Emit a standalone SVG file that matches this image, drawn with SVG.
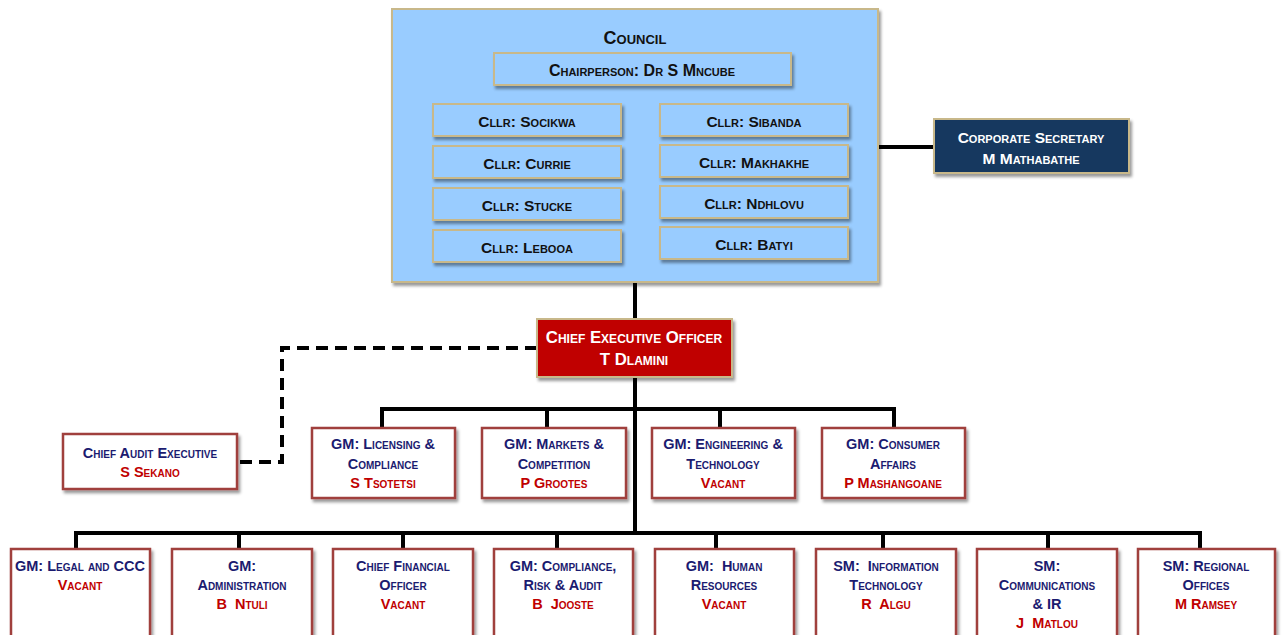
<svg xmlns="http://www.w3.org/2000/svg" width="1283" height="635" viewBox="0 0 1283 635">
<defs>
<filter id="sh" x="-10%" y="-10%" width="125%" height="135%">
<feDropShadow dx="2" dy="3" stdDeviation="1.8" flood-color="#000" flood-opacity="0.4"/>
</filter>
<style>
text{font-family:"Liberation Sans",Arial,sans-serif;font-weight:bold;font-variant:small-caps;text-anchor:middle;dominant-baseline:central;white-space:pre}
.blue{fill:#99CCFF;stroke:#C8B88A;stroke-width:2;filter:url(#sh)}
.wb{fill:#fff;stroke:#A0403E;stroke-width:2.5;filter:url(#sh)}
.k{fill:#111;font-size:15.5px}
.w{fill:#fff;font-size:16.8px}
.n{fill:#1B1B70;font-size:14.5px}
.r{fill:#C00000;font-size:14.5px}
.ln{fill:none;stroke:#000;stroke-width:4}
</style>
</defs>
<g id="connectors">
<path class="ln" d="M635 282V319M635 377V533M878 147H934"/>
<path class="ln" d="M382 428V409H894V428M547 409V428M720 409V428"/>
<path class="ln" d="M76 549V533H1200V549M239 533V549M403 533V549M557 533V549M716 533V549M883 533V549M1048 533V549"/>
<path class="ln" d="M537 348H282V462H238" stroke-dasharray="12,7"/>
</g>
<g id="council">
<rect class="blue" x="392" y="9" width="486" height="273"/>
<text class="k" x="635" y="38" style="font-size:18px">Council</text>
</g>
<g id="chair"><rect class="blue" x="494" y="53" width="297" height="32"/><text class="k" x="642" y="70" style="font-size:16px">Chairperson: Dr S Mncube</text></g>
<g id="c1"><rect class="blue" x="433" y="104" width="188" height="32"/><text class="k" x="527" y="121">Cllr: Socikwa</text></g>
<g id="c2"><rect class="blue" x="433" y="146" width="188" height="32"/><text class="k" x="527" y="163">Cllr: Currie</text></g>
<g id="c3"><rect class="blue" x="433" y="188" width="188" height="32"/><text class="k" x="527" y="205">Cllr: Stucke</text></g>
<g id="c4"><rect class="blue" x="433" y="230" width="188" height="32"/><text class="k" x="527" y="247">Cllr: Lebooa</text></g>
<g id="c5"><rect class="blue" x="660" y="104" width="188" height="32"/><text class="k" x="754" y="121">Cllr: Sibanda</text></g>
<g id="c6"><rect class="blue" x="660" y="145" width="188" height="32"/><text class="k" x="754" y="162">Cllr: Makhakhe</text></g>
<g id="c7"><rect class="blue" x="660" y="186" width="188" height="32"/><text class="k" x="754" y="203">Cllr: Ndhlovu</text></g>
<g id="c8"><rect class="blue" x="660" y="227" width="188" height="32"/><text class="k" x="754" y="244">Cllr: Batyi</text></g>
<g id="corpsec"><rect x="934" y="119" width="195" height="54" fill="#17375E" stroke="#C8B88A" stroke-width="2" filter="url(#sh)"/>
<text class="w" x="1031" y="137" style="font-size:15.5px">Corporate Secretary</text><text class="w" x="1031" y="158" style="font-size:15.5px">M Mathabathe</text></g>
<g id="ceo"><rect x="537" y="319" width="195" height="58" fill="#C00000" stroke="#C8B88A" stroke-width="2" filter="url(#sh)"/>
<text class="w" x="634" y="337">Chief Executive Officer</text><text class="w" x="634" y="359">T Dlamini</text></g>
<g id="cae"><rect class="wb" x="63" y="434" width="174" height="55"/>
<text class="n" x="150" y="453">Chief Audit Executive</text><text class="r" x="150" y="472">S Sekano</text></g>
<g id="gm1"><rect class="wb" x="312" y="428" width="143" height="70"/>
<text class="n" x="383" y="444">GM: Licensing &amp;</text><text class="n" x="383" y="464">Compliance</text><text class="r" x="383" y="483">S Tsotetsi</text></g>
<g id="gm2"><rect class="wb" x="482" y="428" width="144" height="70"/>
<text class="n" x="554" y="444">GM: Markets &amp;</text><text class="n" x="554" y="464">Competition</text><text class="r" x="554" y="483">P Grootes</text></g>
<g id="gm3"><rect class="wb" x="652" y="428" width="143" height="70"/>
<text class="n" x="723" y="444">GM: Engineering &amp;</text><text class="n" x="723" y="464">Technology</text><text class="r" x="723" y="483">Vacant</text></g>
<g id="gm4"><rect class="wb" x="822" y="428" width="143" height="70"/>
<text class="n" x="893" y="444">GM: Consumer</text><text class="n" x="893" y="464">Affairs</text><text class="r" x="893" y="483">P Mashangoane</text></g>
<g id="b1"><rect class="wb" x="11" y="549" width="139" height="100"/>
<text class="n" x="80" y="566">GM: Legal and CCC</text><text class="r" x="80" y="585">Vacant</text></g>
<g id="b2"><rect class="wb" x="172" y="549" width="140" height="100"/>
<text class="n" x="242" y="566">GM:</text><text class="n" x="242" y="585">Administration</text><text class="r" x="242" y="604">B  Ntuli</text></g>
<g id="b3"><rect class="wb" x="333" y="549" width="140" height="100"/>
<text class="n" x="403" y="566">Chief Financial</text><text class="n" x="403" y="585">Officer</text><text class="r" x="403" y="604">Vacant</text></g>
<g id="b4"><rect class="wb" x="494" y="549" width="139" height="100"/>
<text class="n" x="563" y="566">GM: Compliance,</text><text class="n" x="563" y="585">Risk &amp; Audit</text><text class="r" x="563" y="604">B  Jooste</text></g>
<g id="b5"><rect class="wb" x="655" y="549" width="139" height="100"/>
<text class="n" x="724" y="566">GM:  Human</text><text class="n" x="724" y="585">Resources</text><text class="r" x="724" y="604">Vacant</text></g>
<g id="b6"><rect class="wb" x="816" y="549" width="140" height="100"/>
<text class="n" x="886" y="566">SM:  Information</text><text class="n" x="886" y="585">Technology</text><text class="r" x="886" y="604">R  Algu</text></g>
<g id="b7"><rect class="wb" x="977" y="549" width="140" height="100"/>
<text class="n" x="1047" y="566">SM:</text><text class="n" x="1047" y="585">Communications</text><text class="n" x="1047" y="604">&amp; IR</text><text class="r" x="1047" y="623">J  Matlou</text></g>
<g id="b8"><rect class="wb" x="1138" y="549" width="137" height="100"/>
<text class="n" x="1206" y="566">SM: Regional</text><text class="n" x="1206" y="585">Offices</text><text class="r" x="1206" y="604">M Ramsey</text></g>
</svg>
